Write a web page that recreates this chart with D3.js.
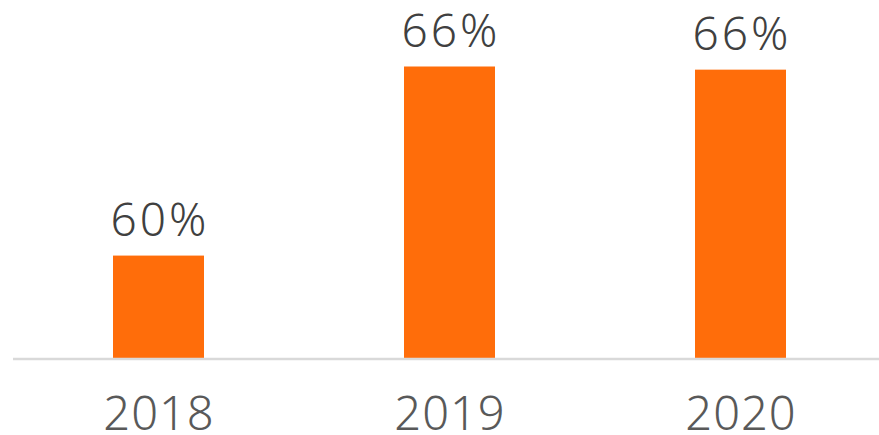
<!DOCTYPE html>
<html>
<head>
<meta charset="utf-8">
<script src="https://cdn.jsdelivr.net/npm/d3@7"></script>
<style>
  html, body { margin: 0; padding: 0; background: #fff; }
  svg { display: block; }
  text { font-family: "Noto Sans", "Open Sans", sans-serif; font-weight: 300; }
</style>
</head>
<body>
<svg id="chart" width="879" height="435"></svg>
<script>
// Share per year
const years = ["2018", "2019", "2020"];
const shares = [60.1, 66.1, 66.0];

const svg = d3.select("#chart");

const p = 0.6873;
const x = d3.scaleBand().domain(years).range([13, 886]).paddingInner(p).paddingOuter(p / 2);
const y = d3.scaleLinear().domain([56.85, 66.1]).range([358, 66.5]);

// Bars
svg.selectAll("rect.bar")
  .data(years)
  .join("rect")
  .attr("class", "bar")
  .attr("x", d => x(d))
  .attr("width", x.bandwidth())
  .attr("y", (d, i) => y(shares[i]))
  .attr("height", (d, i) => y.range()[0] - y(shares[i]))
  .attr("fill", "#ff6d0a");

// Baseline axis with year labels
const axis = d3.axisBottom(x).tickSize(0).tickPadding(0);
const gx = svg.append("g").attr("transform", "translate(0,359)").call(axis);
gx.select(".domain").attr("stroke", "#d9d9d9").attr("stroke-width", 2.5)
  .attr("d", "M13,0H879");
gx.selectAll(".tick text")
  .attr("x", 0.5)
  .attr("y", 71)
  .attr("dy", null)
  .attr("fill", "#595959")
  .style("font-size", "47px")
  .style("letter-spacing", "1px")
  .style("font-family", "'Noto Sans', sans-serif")
  .style("font-weight", 300);

// Value labels above bars (letter-spacing adds trailing space, so nudge right)
svg.selectAll("text.val")
  .data(years)
  .join("text")
  .attr("class", "val")
  .attr("x", d => x(d) + x.bandwidth() / 2 + 1.5)
  .attr("y", (d, i) => y(shares[i]) - 20)
  .attr("text-anchor", "middle")
  .attr("fill", "#404040")
  .style("font-size", "46px")
  .style("letter-spacing", "3px")
  .text((d, i) => Math.round(shares[i]) + "%");
</script>
</body>
</html>
